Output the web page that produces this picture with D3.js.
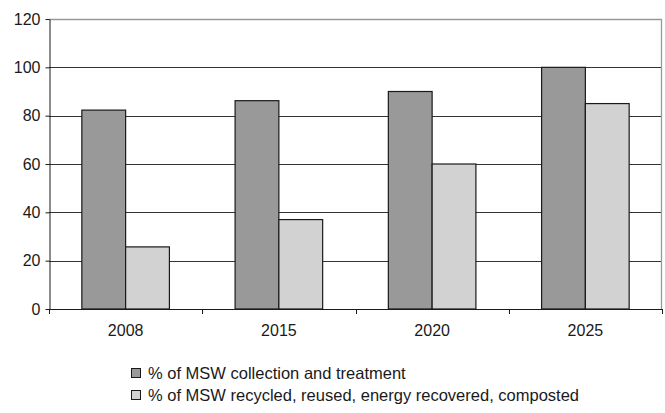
<!DOCTYPE html>
<html><head><meta charset="utf-8">
<script src="https://cdn.jsdelivr.net/npm/d3@7"></script>
<style>body{margin:0;background:#fff}svg{display:block}text{font-family:"Liberation Sans",Arial,sans-serif;fill:#1a1a1a}</style>
</head><body><svg id="c" width="665" height="413"></svg>
<script>
const categories = ["2008", "2015", "2020", "2025"];
const seriesNames = ["% of MSW collection and treatment", "% of MSW recycled, reused, energy recovered, composted"];
const collection = [82.3, 86.2, 90, 100];
const recycled = [25.7, 37, 60, 85];
const yTicks = [0, 20, 40, 60, 80, 100, 120];
const colors = ["#999999", "#d2d2d2"];

const svg = d3.select("#c");
const m = {l: 49, r: 662, t: 19, b: 309};
const x = d3.scaleBand().domain(categories).range([m.l, m.r]).paddingInner(0).paddingOuter(0);
const y = d3.scaleLinear().domain([0, 120]).range([m.b, m.t]);
const series = [collection, recycled];
const FONT = '"Liberation Sans",Arial,sans-serif';

// gridlines
svg.append("g").selectAll("line").data(yTicks.filter(d => d > 0 && d < 120)).join("line")
  .attr("x1", m.l).attr("x2", m.r).attr("y1", d => Math.round(y(d)) + 0.5).attr("y2", d => Math.round(y(d)) + 0.5)
  .attr("stroke", "#333").attr("stroke-width", 1);
// plot border (top & right)
svg.append("path").attr("d", `M${m.l},${Math.round(y(120))+0.5}H${m.r-0.5}V${m.b}`)
  .attr("fill", "none").attr("stroke", "#999").attr("stroke-width", 1.3);

// bars
const bw = x.bandwidth() / 3.5;
series.forEach((vals, si) => {
  svg.append("g").selectAll("rect").data(categories).join("rect")
    .attr("x", (d) => x(d) + x.bandwidth() / 2 - bw + si * bw)
    .attr("y", (d, i) => y(vals[i]))
    .attr("width", bw)
    .attr("height", (d, i) => y(0) - y(vals[i]))
    .attr("fill", colors[si]).attr("stroke", "#1a1a1a").attr("stroke-width", 1.2);
});

// y axis
const ya = svg.append("g").attr("transform", `translate(${m.l + 0.5},0)`)
  .call(d3.axisLeft(y).tickValues(yTicks).tickSize(4).tickSizeOuter(0));
ya.select(".domain").attr("stroke", "#1a1a1a");
ya.selectAll(".tick line").attr("stroke", "#1a1a1a");
ya.selectAll(".tick text").attr("font-size", 16).attr("x", -9).attr("fill", "#1a1a1a").attr("font-family", FONT);

// x axis
const xa = svg.append("g").attr("transform", `translate(0,${m.b + 0.5})`)
  .call(d3.axisBottom(x).tickSize(0).tickSizeOuter(0));
xa.select(".domain").attr("stroke", "#1a1a1a").attr("d", `M${m.l},0H${m.r}`);
xa.selectAll(".tick text").attr("font-size", 16).attr("y", 15).attr("fill", "#1a1a1a").attr("font-family", FONT);
// category boundary ticks
svg.append("g").selectAll("line").data(categories.concat(["end"])).join("line")
  .attr("x1", (d, i) => Math.round(i < categories.length ? x(d) : m.r) + 0.5)
  .attr("x2", (d, i) => Math.round(i < categories.length ? x(d) : m.r) + 0.5)
  .attr("y1", m.b).attr("y2", m.b + 5).attr("stroke", "#1a1a1a");

// legend
const lg = svg.append("g").selectAll("g").data(seriesNames).join("g")
  .attr("transform", (d, i) => `translate(131,${373 + i * 22})`);
lg.append("rect").attr("x", 0.5).attr("y", -4.5).attr("width", 9).attr("height", 9)
  .attr("fill", (d, i) => colors[i]).attr("stroke", "#1a1a1a").attr("stroke-width", 1);
lg.append("text").attr("x", 17).attr("dy", "0.35em").attr("font-size", 16.5).attr("font-family", FONT).text(d => d);
</script></body></html>
